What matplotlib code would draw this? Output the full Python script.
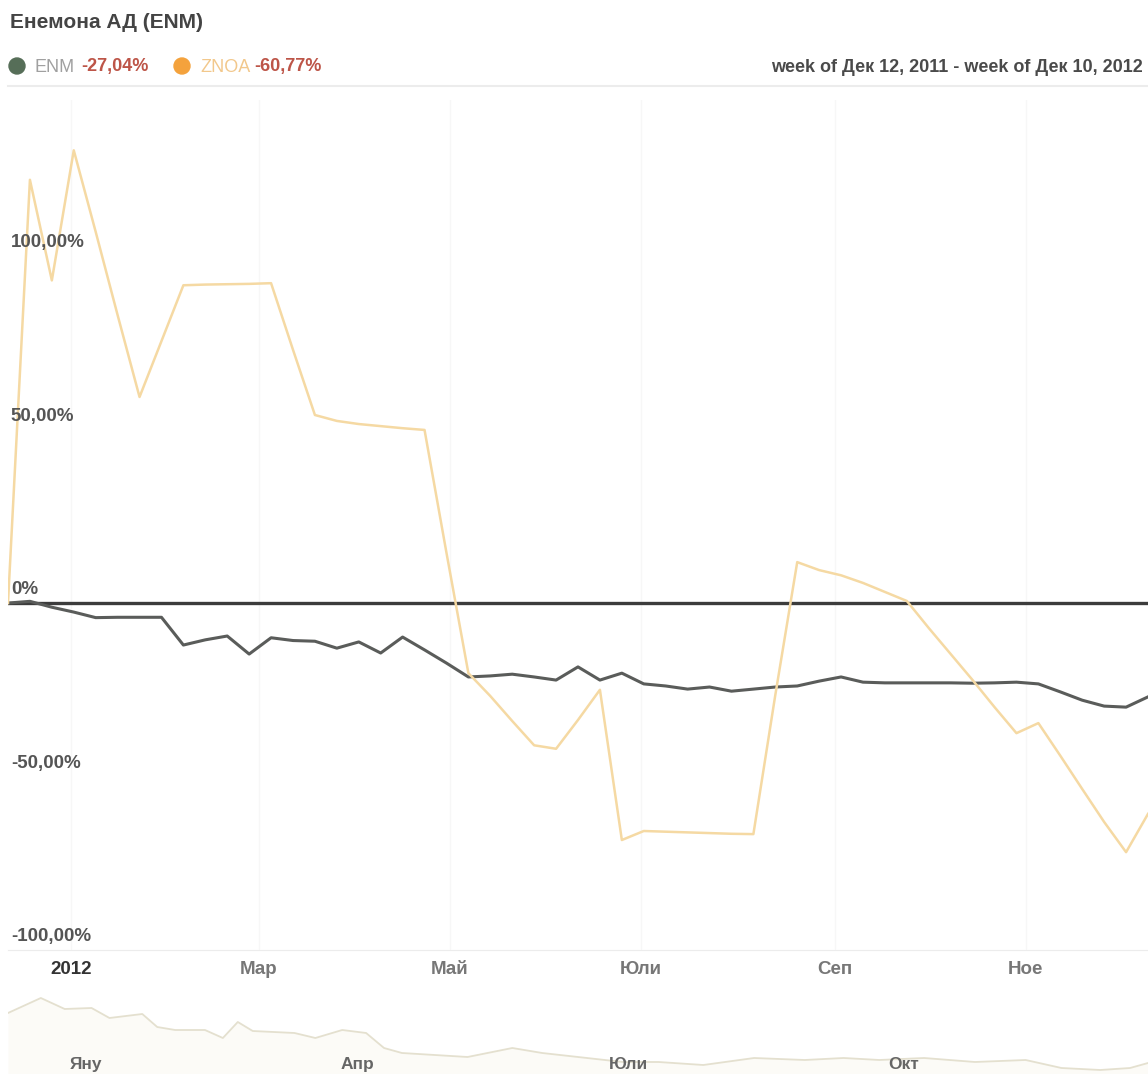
import matplotlib
matplotlib.use('Agg')
import matplotlib.pyplot as plt
from matplotlib.patches import Ellipse
import pandas as pd

plt.rcParams['font.family'] = ['Liberation Sans', 'DejaVu Sans']

# weekly % change, week of Dec 12 2011 .. week of Dec 10 2012
weeks = pd.date_range('2011-12-12', '2012-12-10', freq='7D')

enm = [0, 0.5, -1.2, -2.6, -4.2, -4.1, -4.1, -4.1, -12.1, -10.6,
       -9.5, -14.7, -10.0, -10.8, -11.0, -13.0, -11.2, -14.4, -9.8, -13.5,
       -17.3, -21.3, -21.0, -20.5, -21.3, -22.2, -18.4, -22.2, -20.2, -23.3,
       -23.9, -24.8, -24.2, -25.4, -24.8, -24.2, -23.9, -22.5, -21.3, -22.8,
       -23.0, -23.0, -23.0, -23.0, -23.1, -23.0, -22.8, -23.3, -25.6, -28.0,
       -29.7, -30.0, -27.04]

znoa = [0, 122, 93, 130.5, 107, 83, 59.4, 75.5, 91.6, 91.8,
        91.9, 92.0, 92.2, 73.0, 54.2, 52.5, 51.6, 51.0, 50.4, 49.9,
        14.5, -20.2, -26.8, -34.0, -41.0, -42.0, -33.7, -25.0, -68.3, -65.7,
        -65.9, -66.1, -66.3, -66.5, -66.6, -26.5, 11.8, 9.5, 8.0, 5.8,
        3.2, 0.6, -7.2, -14.7, -22.2, -30.0, -37.5, -34.6, -44.0, -53.6,
        -63.1, -71.8, -60.77]

# navigator (small overview line, arbitrary units)
nav_dates = pd.to_datetime([
    '2011-12-06', '2011-12-17', '2011-12-25', '2012-01-03', '2012-01-09', '2012-01-20',
    '2012-01-25', '2012-01-31', '2012-02-10', '2012-02-16', '2012-02-21', '2012-02-26',
    '2012-03-11', '2012-03-18', '2012-03-27', '2012-04-04', '2012-04-10', '2012-04-16',
    '2012-05-08', '2012-05-23', '2012-06-02', '2012-06-14', '2012-06-29', '2012-07-11',
    '2012-07-26', '2012-08-12', '2012-08-29', '2012-09-11', '2012-09-23', '2012-10-08',
    '2012-10-25', '2012-11-11', '2012-11-23', '2012-12-06', '2012-12-16', '2012-12-22'])
nav_vals = [61, 76, 65, 66, 56, 60, 47, 44, 44, 36, 52, 43,
            41, 36, 44, 41, 26, 21, 17, 26, 21, 17, 12, 12,
            9, 16, 14, 16, 14, 16, 12, 14, 6, 4, 6, 11]

y_ticks = [100, 50, 0, -50, -100]
y_labels = ['100,00%', '50,00%', '0%', '-50,00%', '-100,00%']
month_ticks = pd.to_datetime(['2012-01-01', '2012-03-01', '2012-05-01', '2012-07-01', '2012-09-01', '2012-11-01'])
month_labels = ['2012', 'Мар', 'Май', 'Юли', 'Сеп', 'Ное']
nav_ticks = pd.to_datetime(['2012-01-01', '2012-04-01', '2012-07-01', '2012-10-01'])
nav_labels = ['Яну', 'Апр', 'Юли', 'Окт']

W, H = 1148, 1074
fig = plt.figure(figsize=(W / 100, H / 100), dpi=100)

def px(x, y):
    return x / W, 1 - y / H

# main chart
ax = fig.add_axes([8 / W, 1 - 950 / H, 1140 / W, 850 / H])
ax.set_xlim(weeks[0], weeks[-1])
ax.set_ylim(-100, 145)
for t in month_ticks:
    ax.axvline(t, color='#f7f7f7', lw=1, zorder=0)
ax.axhline(0, color='#3c3c3c', lw=2.4, zorder=1)
ax.plot(weeks, enm, color='#5a5c5a', lw=2.2, zorder=2)
ax.plot(weeks, znoa, color='#f5d9a3', lw=1.8, zorder=3)
for spine in ax.spines.values():
    spine.set_visible(False)
ax.spines['bottom'].set_visible(True)
ax.spines['bottom'].set_color('#ececec')
ax.set_yticks([])
ax.set_xticks(month_ticks)
ax.set_xticklabels(month_labels)
ax.tick_params(axis='x', length=0, pad=8, labelsize=13.5, labelcolor='#777777')
for lbl in ax.get_xticklabels():
    lbl.set_fontweight('bold')
ax.get_xticklabels()[0].set_color('#333333')
for v, s in zip(y_ticks, y_labels):
    ax.annotate(s, xy=(0, v), xycoords=('axes fraction', 'data'), xytext=(2, 3.5),
                textcoords='offset points', fontsize=13.5, fontweight='bold',
                color='#555555', ha='left', va='bottom')

# navigator
nav = fig.add_axes([8 / W, 0, 1140 / W, 84 / H])
nav.set_xlim(nav_dates[0], nav_dates[-1])
nav.set_ylim(0, 84)
nav.fill_between(nav_dates, nav_vals, 0, color='#fcfbf7', lw=0)
nav.plot(nav_dates, nav_vals, color='#e4e0cf', lw=1.3)
nav.set_yticks([])
nav.set_xticks([])
for spine in nav.spines.values():
    spine.set_visible(False)
for t, s in zip(nav_ticks, nav_labels):
    nav.text(t, 2, s, ha='center', va='bottom', fontsize=12.5, fontweight='bold', color='#666666')

# header
fig.text(*px(10, 22), 'Енемона АД (ENM)', fontsize=15, fontweight='bold', color='#444444', va='center')
fig.add_artist(Ellipse(px(17, 66), 16 / W, 16 / H, transform=fig.transFigure, color='#566e58'))
fig.add_artist(Ellipse(px(182, 66), 16 / W, 16 / H, transform=fig.transFigure, color='#f4a23c'))
fig.text(*px(35, 67), 'ENM', fontsize=13, color='#a0a0a0', va='center')
fig.text(*px(81, 67), '-27,04%', fontsize=13, fontweight='bold', color='#bd5548', va='center')
fig.text(*px(200, 67), 'ZNOA', fontsize=13, color='#f2c88c', va='center')
fig.text(*px(254, 67), '-60,77%', fontsize=13, fontweight='bold', color='#bd5548', va='center')
fig.text(*px(1143, 67), 'week of Дек 12, 2011 - week of Дек 10, 2012', fontsize=13,
         fontweight='bold', color='#4a4a4a', va='center', ha='right')
fig.add_artist(plt.Line2D([8 / W, 1], [1 - 86 / H] * 2, color='#ececec', lw=1.5, transform=fig.transFigure))

fig.savefig('out.png', dpi=100)
